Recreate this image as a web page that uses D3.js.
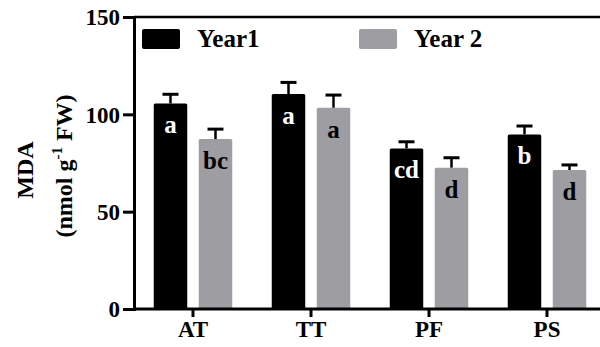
<!DOCTYPE html>
<html>
<head>
<meta charset="utf-8">
<script src="https://cdn.jsdelivr.net/npm/d3@7"></script>
<style>
  body { margin: 0; background: #fff; }
  svg text { font-family: "Liberation Serif", "Times New Roman", serif; font-weight: bold; }
</style>
</head>
<body>
<script>
var w = 600;
var h = 347;

// data
var categories = ['AT', 'TT', 'PF', 'PS'];
var seriesNames = ['Year1', 'Year 2'];
var year1 = [105.6, 110.4, 82.5, 89.7];
var year1Err = [4.7, 6.0, 3.4, 4.3];
var year2 = [87.3, 103.4, 72.6, 71.4];
var year2Err = [5.1, 6.5, 5.1, 2.6];
var year1Letters = ['a', 'a', 'cd', 'b'];
var year2Letters = ['bc', 'a', 'd', 'd'];
var yTicks = [0, 50, 100, 150];

var colors = ['#000000', '#9e9ea2'];
var labelColors = ['#ffffff', '#000000'];

var rows = [];
categories.forEach((c, i) => {
  rows.push({ cat: c, s: 0, v: year1[i], e: year1Err[i], lab: year1Letters[i] });
  rows.push({ cat: c, s: 1, v: year2[i], e: year2Err[i], lab: year2Letters[i] });
});

var svg = d3.select('body').append('svg')
  .attr('width', w)
  .attr('height', h);

var scaleY = d3.scaleLinear()
  .domain([0, 150])
  .range([309, 17]);

var scaleX = d3.scaleBand()
  .domain(categories)
  .range([134, 606]);

var scaleSub = d3.scaleBand()
  .domain([0, 1])
  .range([0, scaleX.bandwidth()])
  .paddingInner(0.256)
  .paddingOuter(0.439);

// bars
svg.selectAll('rect.bar')
  .data(rows)
  .enter().append('rect')
    .attr('class', 'bar')
    .attr('x', (d) => scaleX(d.cat) + scaleSub(d.s))
    .attr('y', (d) => scaleY(d.v))
    .attr('width', scaleSub.bandwidth())
    .attr('height', (d) => scaleY(0) - scaleY(d.v))
    .attr('rx', 1.5)
    .attr('fill', (d) => colors[d.s]);

// error bars (upper only)
var err = svg.selectAll('g.err')
  .data(rows)
  .enter().append('g')
    .attr('class', 'err')
    .attr('transform', (d) => 'translate(' + (scaleX(d.cat) + scaleSub(d.s) + scaleSub.bandwidth() / 2) + ',0)');

err.append('line')
  .attr('y1', (d) => scaleY(d.v))
  .attr('y2', (d) => scaleY(d.v + d.e))
  .attr('stroke', '#000')
  .attr('stroke-width', 2.5);

err.append('line')
  .attr('x1', -8)
  .attr('x2', 8)
  .attr('y1', (d) => scaleY(d.v + d.e))
  .attr('y2', (d) => scaleY(d.v + d.e))
  .attr('stroke', '#000')
  .attr('stroke-width', 3);

// significance letters
svg.selectAll('text.lab')
  .data(rows)
  .enter().append('text')
    .attr('class', 'lab')
    .attr('x', (d) => scaleX(d.cat) + scaleSub(d.s) + scaleSub.bandwidth() / 2)
    .attr('y', (d) => scaleY(d.v) + 30)
    .attr('text-anchor', 'middle')
    .attr('font-size', 25)
    .attr('fill', (d) => labelColors[d.s])
    .text((d) => d.lab);

// axes
var yAxis = svg.append('g')
  .attr('transform', 'translate(134,0)')
  .call(d3.axisLeft(scaleY).tickValues(yTicks).tickSize(11).tickPadding(3));

var xAxis = svg.append('g')
  .attr('transform', 'translate(0,309)')
  .call(d3.axisBottom(scaleX).tickSize(8).tickPadding(4));

[yAxis, xAxis].forEach((g) => {
  g.select('.domain').attr('stroke-width', 3).attr('stroke', '#000');
  g.selectAll('.tick line').attr('stroke-width', 3).attr('stroke', '#000');
  g.selectAll('.tick text')
    .attr('font-size', 23)
    .attr('fill', '#000');
});
yAxis.selectAll('.tick text').attr('dy', '0.34em');
xAxis.select('.domain').attr('d', 'M134,0H606');

// top frame line
svg.append('line')
  .attr('x1', 134)
  .attr('x2', 606)
  .attr('y1', scaleY(150))
  .attr('y2', scaleY(150))
  .attr('stroke', '#000')
  .attr('stroke-width', 2.5);

// legend
var legendX = [142, 359];
var legend = svg.selectAll('g.legend')
  .data(seriesNames)
  .enter().append('g')
    .attr('class', 'legend')
    .attr('transform', (d, i) => 'translate(' + legendX[i] + ',29)');

legend.append('rect')
  .attr('width', 38)
  .attr('height', 20)
  .attr('rx', 2)
  .attr('fill', (d, i) => colors[i]);

legend.append('text')
  .attr('x', 55)
  .attr('y', 18)
  .attr('font-size', 25)
  .attr('fill', '#000')
  .text((d) => d);

// y axis title
svg.append('text')
  .attr('transform', 'translate(33,170) rotate(-90)')
  .attr('text-anchor', 'middle')
  .attr('font-size', 24)
  .attr('fill', '#000')
  .text('MDA');

var title2 = svg.append('text')
  .attr('transform', 'translate(72,166) rotate(-90)')
  .attr('text-anchor', 'middle')
  .attr('font-size', 24)
  .attr('fill', '#000');
title2.append('tspan').text('(nmol g');
title2.append('tspan').attr('font-size', 15).attr('dy', -10).text('-1');
title2.append('tspan').attr('dy', 10).text(' FW)');
</script>
</body>
</html>
